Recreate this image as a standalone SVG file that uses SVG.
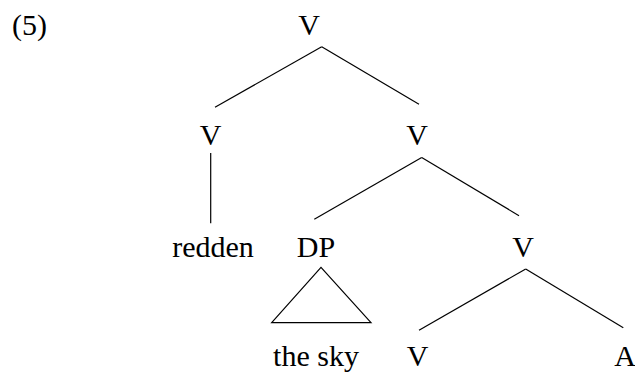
<svg xmlns="http://www.w3.org/2000/svg" width="635" height="372" viewBox="0 0 635 372">
<style>
text{font-family:"Liberation Serif","Times New Roman",serif;font-size:30px;fill:#000;text-anchor:middle}
.e line,.e polygon{stroke:#000;stroke-width:1.2;fill:none}
</style>
<rect width="635" height="372" fill="#fff"/>
<text x="12" y="35" style="text-anchor:start">(5)</text>
<g id="n-root"><text x="309" y="35">V</text></g>
<g id="n-v1"><text x="210.5" y="145">V</text></g>
<g id="n-v2"><text x="417" y="145">V</text></g>
<g id="n-redden"><text x="213" y="257">redden</text></g>
<g id="n-dp"><text x="316" y="257">DP</text></g>
<g id="n-v3"><text x="523" y="257">V</text></g>
<g id="n-thesky"><text x="316" y="366">the sky</text></g>
<g id="n-v4"><text x="417.5" y="366">V</text></g>
<g id="n-a"><text x="625" y="366">A</text></g>
<g id="edges" class="e">
<line x1="321.7" y1="46.7" x2="215" y2="107.3"/>
<line x1="321.7" y1="46.7" x2="419" y2="104.3"/>
<line x1="210.7" y1="153" x2="210.7" y2="223.3"/>
<line x1="421.7" y1="157.5" x2="314.3" y2="219.3"/>
<line x1="421.7" y1="157.5" x2="519" y2="215.7"/>
<polygon points="321,267.3 271.7,322.7 371,322.7"/>
<line x1="525.7" y1="269" x2="419" y2="330.3"/>
<line x1="525.7" y1="269" x2="623.3" y2="327.7"/>
</g>
</svg>
